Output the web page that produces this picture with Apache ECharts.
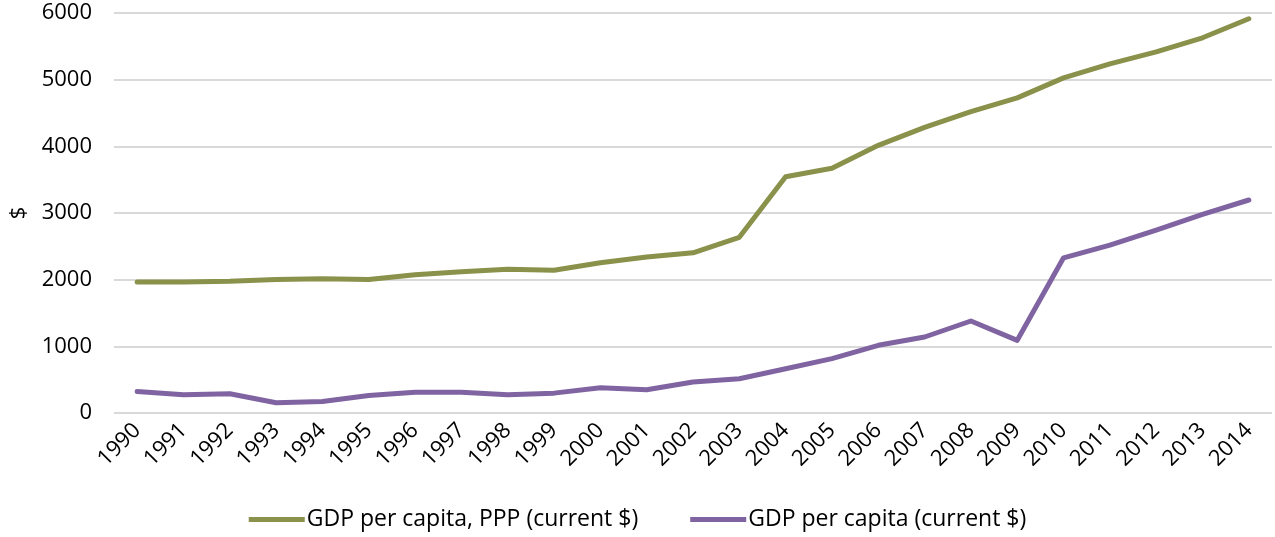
<!DOCTYPE html>
<html>
<head>
<meta charset="utf-8">
<script src="https://cdn.jsdelivr.net/npm/echarts@6/dist/echarts.min.js"></script>
<style>
  html, body { margin: 0; padding: 0; background: #fff; }
  #chart { width: 1275px; height: 537px; }
</style>
</head>
<body>
<div id="chart"></div>
<script>
// years on the x axis
const years = ['1990', '1991', '1992', '1993', '1994', '1995', '1996', '1997', '1998', '1999',
  '2000', '2001', '2002', '2003', '2004', '2005', '2006', '2007', '2008', '2009',
  '2010', '2011', '2012', '2013', '2014']

// GDP per capita, PPP (current $)
const gdpPpp = [1965, 1965, 1975, 2003, 2015, 2003, 2075, 2118, 2155, 2140,
  2255, 2340, 2403, 2635, 3545, 3672, 4015, 4285, 4522, 4727,
  5027, 5238, 5418, 5628, 5913]

// GDP per capita (current $)
const gdpCurrent = [323, 274, 289, 153, 173, 263, 313, 313, 273, 298,
  379, 349, 464, 514, 664, 815, 1015, 1140, 1380, 1090,
  2328, 2519, 2744, 2980, 3195]

const yTicks = { min: 0, max: 6000, interval: 1000 }

const chart = echarts.init(document.getElementById('chart'))
const font = '"Open Sans", sans-serif'

chart.setOption({
  animation: false,
  grid: { left: 110, right: 3, top: 13, bottom: 124 },
  legend: {
    bottom: 1,
    left: 'center',
    itemWidth: 56,
    itemHeight: 5,
    itemGap: 52,
    icon: 'rect',
    textStyle: { fontFamily: font, fontSize: 23, color: '#000', padding: [0, 0, 0, -3] },
    data: ['GDP per capita, PPP (current $)', 'GDP per capita (current $)'],
  },
  xAxis: {
    type: 'category',
    data: years,
    boundaryGap: true,
    axisLine: { show: false },
    axisTick: { show: false },
    axisLabel: {
      rotate: 45,
      interval: 0,
      margin: 14,
      fontFamily: font,
      fontSize: 22,
      color: '#000',
    },
  },
  yAxis: {
    type: 'value',
    min: yTicks.min,
    max: yTicks.max,
    interval: yTicks.interval,
    name: '$',
    nameLocation: 'middle',
    nameGap: 84,
    nameRotate: 90,
    nameTextStyle: { fontFamily: font, fontSize: 22, color: '#000' },
    axisLine: { show: false },
    axisTick: { show: false },
    axisLabel: {
      fontFamily: font,
      fontSize: 22,
      color: '#000',
      margin: 22,
      formatter: (v) => String(v),
    },
    splitLine: { lineStyle: { color: '#d9d9d9', width: 2 } },
  },
  series: [
    {
      name: 'GDP per capita, PPP (current $)',
      type: 'line',
      data: gdpPpp,
      symbol: 'none',
      lineStyle: { color: '#8a914a', width: 5, cap: 'round', join: 'round' },
      itemStyle: { color: '#8a914a' },
    },
    {
      name: 'GDP per capita (current $)',
      type: 'line',
      data: gdpCurrent,
      symbol: 'none',
      lineStyle: { color: '#8064a2', width: 5, cap: 'round', join: 'round' },
      itemStyle: { color: '#8064a2' },
    },
  ],
})
</script>
</body>
</html>
